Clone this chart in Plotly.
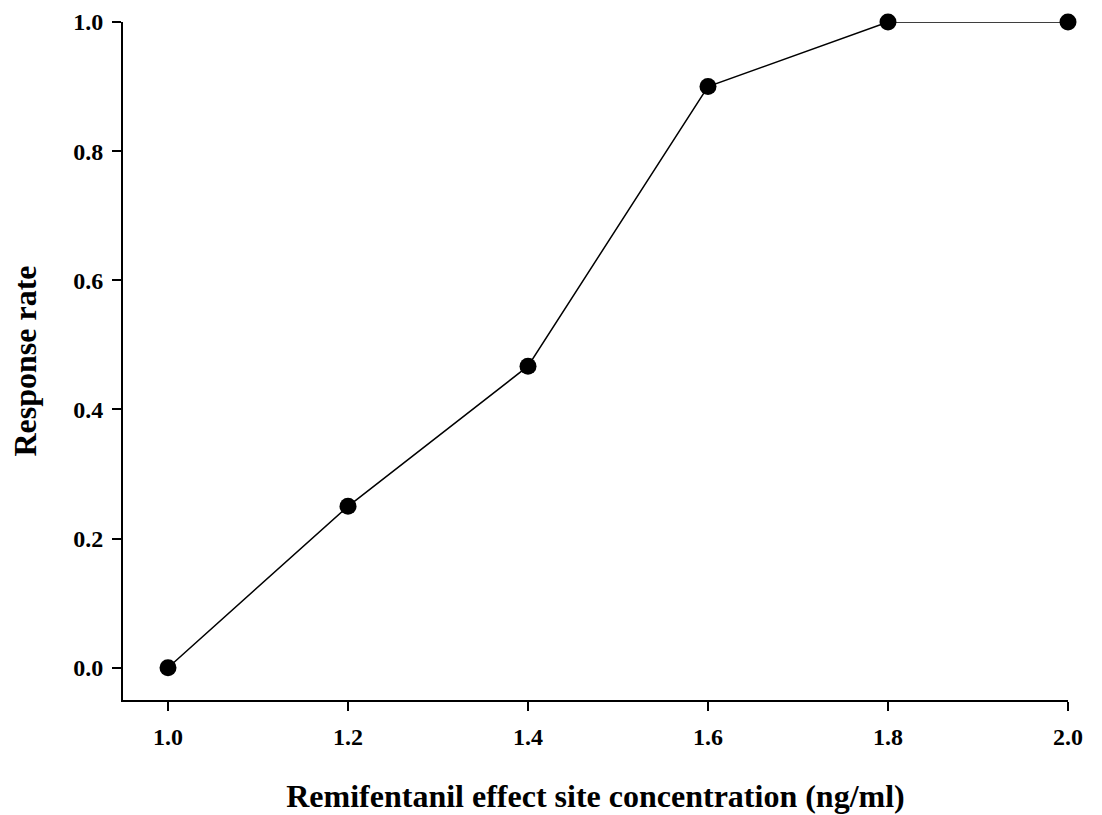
import plotly.graph_objects as go

conc = [1.0, 1.2, 1.4, 1.6, 1.8, 2.0]
response = [0.0, 0.25, 0.467, 0.9, 1.0, 1.0]
xticks = [1.0, 1.2, 1.4, 1.6, 1.8, 2.0]
yticks = [0.0, 0.2, 0.4, 0.6, 0.8, 1.0]

FONT = "Liberation Serif"

fig = go.Figure()
fig.add_trace(go.Scatter(
    x=conc, y=response, mode="lines+markers",
    line=dict(color="black", width=1.5),
    marker=dict(color="black", size=17),
    cliponaxis=False, showlegend=False,
))

axis_common = dict(
    showline=True, linecolor="black", linewidth=2,
    ticks="outside", ticklen=9, tickwidth=2, tickcolor="black",
    showgrid=False, zeroline=False,
    tickfont=dict(family=FONT, size=24, color="black", weight="bold"),
)

fig.update_layout(
    width=1102, height=815,
    margin=dict(l=123, r=34, t=22, b=115),
    paper_bgcolor="white", plot_bgcolor="white",
    xaxis=dict(
        range=[0.95, 2.0], tickvals=xticks,
        ticktext=[f"{v:.1f}" for v in xticks],
        automargin=False, ticklabelstandoff=5,
        title=dict(text="<b>Remifentanil effect site concentration (ng/ml)</b>",
                   font=dict(family=FONT, size=32, color="black"), standoff=36),
        **axis_common,
    ),
    yaxis=dict(
        range=[-0.05, 1.0], tickvals=yticks,
        ticktext=[f"{v:.1f}" for v in yticks],
        automargin="left", ticklabelstandoff=4,
        title=dict(text="<b>Response rate</b>",
                   font=dict(family=FONT, size=32, color="black"), standoff=27),
        **axis_common,
    ),
)

fig.write_html(
    "out.html",
    config={"displayModeBar": False},
    post_script="document.body.style.margin='0';document.body.style.overflow='hidden';",
)
